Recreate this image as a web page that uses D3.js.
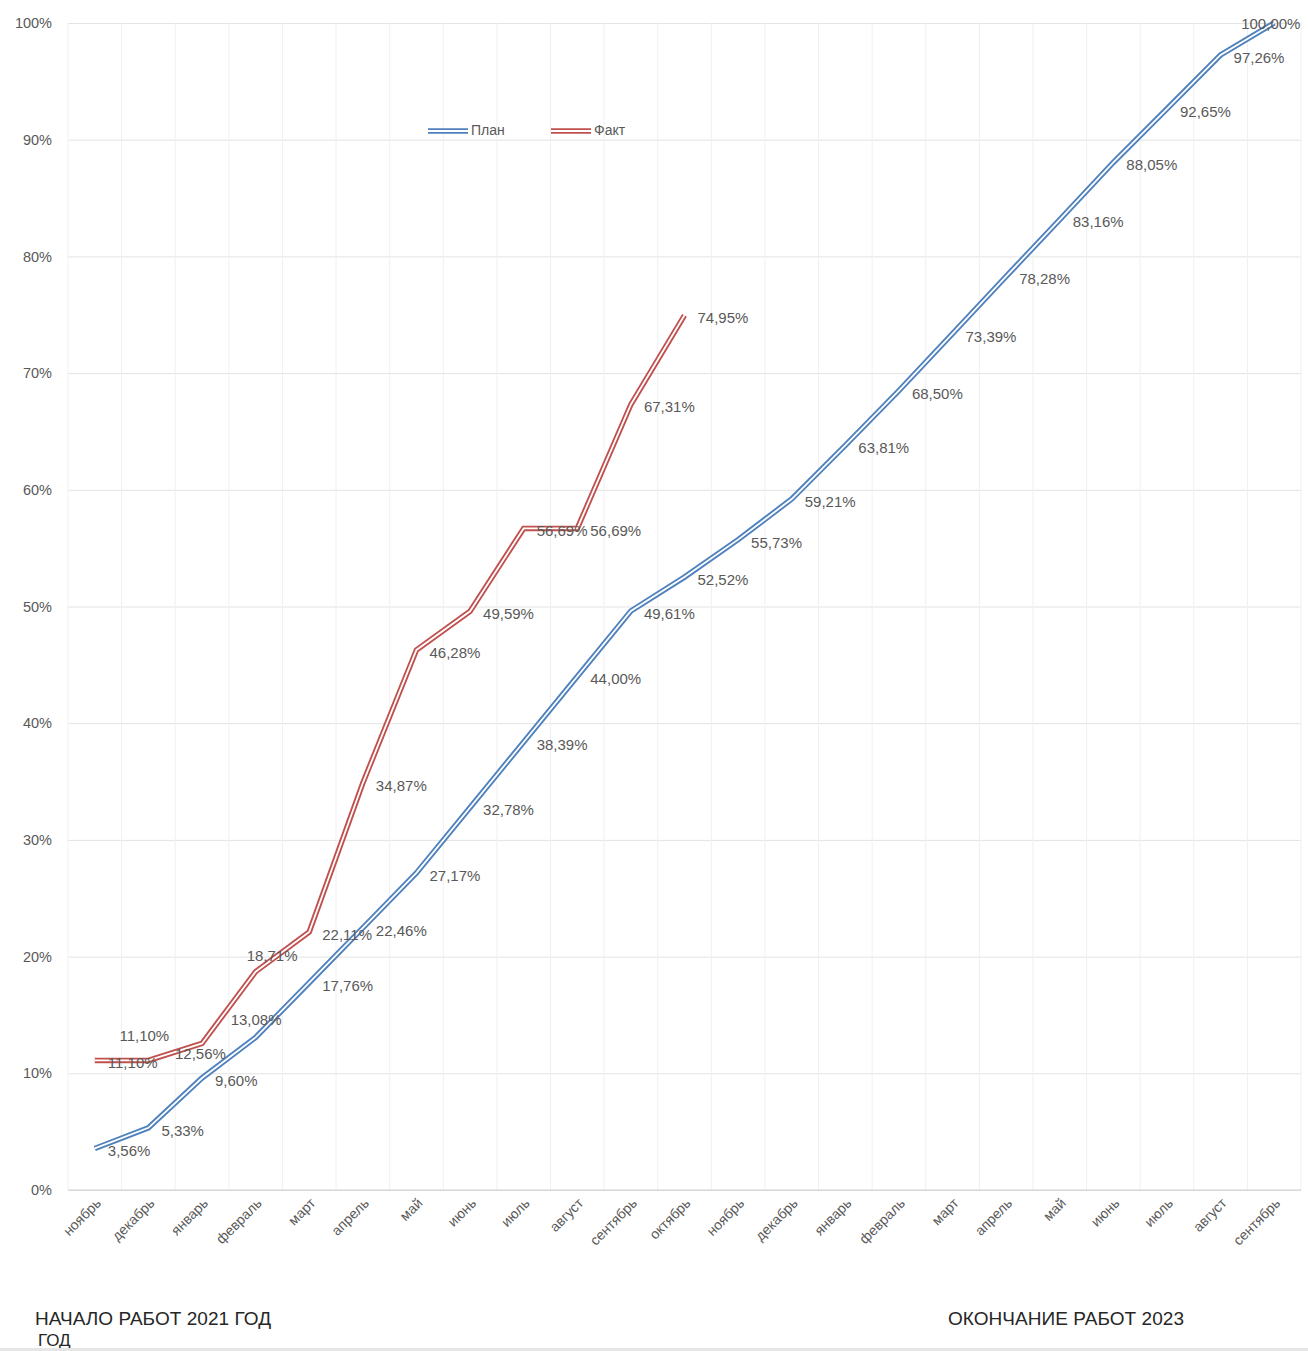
<!DOCTYPE html>
<html>
<head>
<meta charset="utf-8">
<script src="https://cdn.jsdelivr.net/npm/d3@7.9.0/dist/d3.min.js"></script>
<style>
  body { margin: 0; background: #fff; }
  text { font-family: "Liberation Sans", Arial, sans-serif; fill: #595959; }
  .note { font-family: "Liberation Sans Narrow", "Liberation Sans", sans-serif; fill: #262626; }
</style>
</head>
<body>
<svg id="chart" width="1308" height="1351"></svg>
<script>
// months from ноябрь 2021 to сентябрь 2023
const months = ['ноябрь', 'декабрь', 'январь', 'февраль', 'март', 'апрель', 'май', 'июнь', 'июль', 'август', 'сентябрь', 'октябрь',
  'ноябрь', 'декабрь', 'январь', 'февраль', 'март', 'апрель', 'май', 'июнь', 'июль', 'август', 'сентябрь'];
const plan = [3.56, 5.33, 9.60, 13.08, 17.76, 22.46, 27.17, 32.78, 38.39, 44.00, 49.61, 52.52,
  55.73, 59.21, 63.81, 68.50, 73.39, 78.28, 83.16, 88.05, 92.65, 97.26, 100.00];
const fact = [11.10, 11.10, 12.56, 18.71, 22.11, 34.87, 46.28, 49.59, 56.69, 56.69, 67.31, 74.95];
const yTicks = [0, 10, 20, 30, 40, 50, 60, 70, 80, 90, 100];

// manual label nudges (like in the source workbook)
const planNudge = { 3: [-25, -16], 22: [-33, 2] };
const factNudge = { 1: [-29, -23], 2: [-27, 12], 3: [-9, -15] };

const svg = d3.select('#chart');
const plotLeft = 68, plotRight = 1301, plotTop = 23, plotBottom = 1190;

const x = d3.scaleBand().domain(d3.range(months.length)).range([plotLeft, plotRight]);
const cx = i => x(i) + x.bandwidth() / 2;
const y = d3.scaleLinear().domain([0, 100]).range([plotBottom, plotTop]);

// horizontal gridlines
svg.append('g')
  .attr('transform', `translate(${plotLeft},0)`)
  .call(d3.axisLeft(y).tickValues(yTicks).tickFormat('').tickSize(-(plotRight - plotLeft)))
  .call(g => g.select('.domain').remove())
  .call(g => g.selectAll('line').attr('stroke', '#e3e3e3'));

// vertical gridlines at category boundaries
svg.append('g').selectAll('line')
  .data(d3.range(months.length + 1))
  .join('line')
  .attr('x1', i => i < months.length ? x(i) : plotRight)
  .attr('x2', i => i < months.length ? x(i) : plotRight)
  .attr('y1', plotTop).attr('y2', plotBottom)
  .attr('stroke', '#f0f0f0');

// y axis labels
svg.append('g')
  .attr('transform', `translate(${plotLeft},0)`)
  .call(d3.axisLeft(y).tickValues(yTicks).tickFormat(d => d + '%').tickSize(0).tickPadding(16))
  .call(g => g.select('.domain').remove())
  .call(g => g.selectAll('text').style('font-size', '14.5px').attr('fill', '#595959'));

// x axis
svg.append('line')
  .attr('x1', plotLeft).attr('x2', plotRight).attr('y1', plotBottom).attr('y2', plotBottom)
  .attr('stroke', '#d0d0d0');

svg.append('g').selectAll('text')
  .data(months)
  .join('text')
  .attr('transform', (d, i) => `translate(${cx(i) + 7},${plotBottom + 14}) rotate(-45)`)
  .attr('text-anchor', 'end')
  .style('font-size', '14px')
  .text(d => d);

// double lines
const line = d3.line().x((d, i) => cx(i)).y(d => y(d));

function drawSeries(values, color) {
  const g = svg.append('g');
  g.append('path').attr('d', line(values)).attr('fill', 'none')
    .attr('stroke', color).attr('stroke-width', 5.5);
  g.append('path').attr('d', line(values)).attr('fill', 'none')
    .attr('stroke', '#fff').attr('stroke-width', 1.8);
}
drawSeries(plan, '#4f81bd');
drawSeries(fact, '#c0504d');

const fmt = v => v.toFixed(2).replace('.', ',') + '%';

function drawLabels(values, nudge) {
  svg.append('g').selectAll('text')
    .data(values)
    .join('text')
    .attr('x', (d, i) => cx(i) + (nudge[i] ? nudge[i][0] : 13))
    .attr('y', (d, i) => y(d) + (nudge[i] ? nudge[i][1] : 4))
    .attr('dominant-baseline', 'middle')
    .style('font-size', '15px')
    .text(d => fmt(d));
}
drawLabels(plan, planNudge);
drawLabels(fact, factNudge);

// legend
const legend = [{ name: 'План', color: '#4f81bd', x: 428 }, { name: 'Факт', color: '#c0504d', x: 551 }];
const lg = svg.append('g').selectAll('g').data(legend).join('g')
  .attr('transform', d => `translate(${d.x},131)`);
lg.append('line').attr('x1', 0).attr('x2', 40).attr('stroke', d => d.color).attr('stroke-width', 5.5);
lg.append('line').attr('x1', 0).attr('x2', 40).attr('stroke', '#fff').attr('stroke-width', 1.8);
lg.append('text').attr('x', 43).attr('dominant-baseline', 'middle')
  .style('font-size', '14px').text(d => d.name);

// notes below chart
svg.append('text').attr('class', 'note').attr('x', 35).attr('y', 1325)
  .style('font-size', '19px').attr('textLength', 236).text('НАЧАЛО РАБОТ 2021 ГОД');
svg.append('text').attr('class', 'note').attr('x', 38).attr('y', 1346)
  .style('font-size', '17px').text('ГОД');
svg.append('text').attr('class', 'note').attr('x', 948).attr('y', 1325)
  .style('font-size', '19px').attr('textLength', 236).text('ОКОНЧАНИЕ РАБОТ 2023');
svg.append('rect').attr('x', 0).attr('y', 1348).attr('width', 1308).attr('height', 3).attr('fill', '#e6e6e6');
</script>
</body>
</html>
